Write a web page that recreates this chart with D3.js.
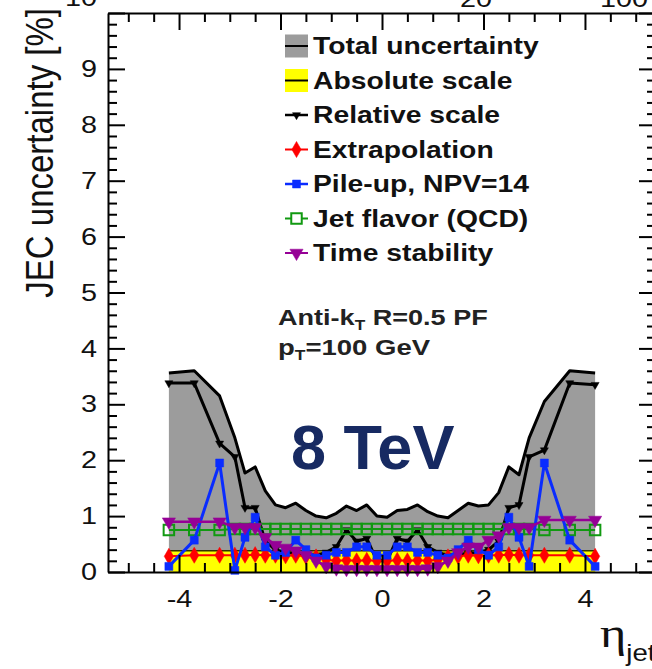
<!DOCTYPE html>
<html><head><meta charset="utf-8">
<script src="https://cdn.jsdelivr.net/npm/d3@7"></script>
<style>body{margin:0;background:#fff}svg{display:block}</style>
</head><body>
<svg id="chart" width="652" height="669"></svg>
<script>
// pseudorapidity points of the uncertainty sources
const eta = [-4.2,-3.7,-3.2,-2.9,-2.7,-2.5,-2.3,-2.1,-1.9,-1.7,-1.5,-1.3,-1.1,-0.9,-0.7,-0.5,-0.3,-0.1,
             0.1,0.3,0.5,0.7,0.9,1.1,1.3,1.5,1.7,1.9,2.1,2.3,2.5,2.7,2.9,3.2,3.7,4.2];
// uncertainties in percent
const totalUnc = [3.56,3.60,3.15,2.40,1.77,1.88,1.45,1.20,1.15,1.23,1.10,1.00,0.97,1.05,1.18,1.10,1.20,1.00,
                  0.98,1.10,1.12,1.20,1.08,1.00,0.97,1.10,1.23,1.18,1.20,1.42,1.88,1.74,2.40,3.05,3.60,3.56];
const absoluteScale = [0.38,0.38,0.38,0.38,0.38,0.38,0.38,0.38,0.38,0.38,0.38,0.38,0.38,0.38,0.38,0.38,0.38,0.38,
                       0.38,0.38,0.38,0.38,0.38,0.38,0.38,0.38,0.38,0.38,0.38,0.38,0.38,0.38,0.38,0.38,0.38,0.38];
const relativeScale = [3.38,3.38,2.30,2.06,1.15,1.15,0.55,0.40,0.35,0.33,0.32,0.30,0.35,0.45,0.75,0.55,0.60,0.20,
                       0.20,0.60,0.55,0.75,0.45,0.35,0.30,0.32,0.33,0.35,0.40,0.55,1.15,1.20,2.06,2.18,3.38,3.35];
const extrapolation = [0.28,0.30,0.30,0.30,0.30,0.31,0.30,0.30,0.29,0.30,0.28,0.27,0.22,0.20,0.21,0.20,0.21,0.20,
                       0.20,0.21,0.20,0.21,0.20,0.22,0.27,0.28,0.30,0.29,0.30,0.30,0.31,0.30,0.30,0.30,0.30,0.28];
const pileUp = [0.10,0.57,1.95,0.03,0.62,0.98,0.45,0.30,0.35,0.57,0.40,0.25,0.30,0.35,0.35,0.45,0.45,0.30,
                0.30,0.45,0.45,0.35,0.35,0.30,0.25,0.40,0.57,0.40,0.30,0.45,0.98,0.62,0.10,1.95,0.57,0.10];
const jetFlavor = [0.75,0.75,0.75,0.77,0.77,0.77,0.77,0.77,0.77,0.77,0.77,0.77,0.77,0.77,0.77,0.77,0.77,0.77,
                   0.77,0.77,0.77,0.77,0.77,0.77,0.77,0.77,0.77,0.77,0.77,0.77,0.77,0.77,0.77,0.75,0.75,0.75];
const timeStability = [0.90,0.90,0.90,0.80,0.80,0.80,0.62,0.48,0.43,0.38,0.30,0.20,0.10,0.06,0.05,0.05,0.05,0.05,
                       0.05,0.05,0.05,0.05,0.06,0.10,0.20,0.35,0.45,0.45,0.57,0.65,0.80,0.80,0.80,0.93,0.93,0.93];

const xMajorTicks = [-4,-2,0,2,4];
const yMajorTicks = [0,1,2,3,4,5,6,7,8,9,10];
const legendLabels = ["Total uncertainty","Absolute scale","Relative scale","Extrapolation",
                      "Pile-up, NPV=14","Jet flavor (QCD)","Time stability"];

const FONT = "'Liberation Sans', Arial, Helvetica, sans-serif";
const SX = 1.2; // horizontal stretch of the ROOT lettering

const svg = d3.select("#chart");
const x = d3.scaleLinear().domain([-5.4, 5.4]).range([108, 656]);
const y = d3.scaleLinear().domain([0, 10]).range([572, 13]);

const pts = vals => eta.map((e, i) => ({e, v: vals[i]}));
const line = d3.line().x(d => x(d.e)).y(d => y(d.v));
const area = d3.area().x(d => x(d.e)).y0(y(0)).y1(d => y(d.v));

const COL = {gray:"#9c9c9c", yellow:"#ffff00", red:"#ff0000", blue:"#0a2cff", green:"#119911", purple:"#960096", black:"#000"};

const plot = svg.append("g");

// total band
plot.append("path").attr("d", area(pts(totalUnc))).attr("fill", COL.gray);
// absolute scale band
plot.append("path").attr("d", area(pts(absoluteScale))).attr("fill", COL.yellow);
plot.append("path").attr("d", line(pts(absoluteScale))).attr("fill","none").attr("stroke","#333300").attr("stroke-width",1.5);

// marker shapes
const sym = {
  relative: d3.symbol(d3.symbolTriangle, 28)(),
  diamond: d3.symbol(d3.symbolDiamond, 75)(),
  square: d3.symbol(d3.symbolSquare, 64)(),
  open: d3.symbol(d3.symbolSquare, 110)(),
  tri: d3.symbol(d3.symbolTriangle, 75)()
};

function series(vals, color, width, shape, opts = {}) {
  const g = plot.append("g");
  g.append("path").attr("d", line(pts(vals))).attr("fill","none")
    .attr("stroke", color).attr("stroke-width", width).attr("stroke-linejoin","round");
  g.selectAll("path.m").data(pts(vals)).join("path").attr("class","m")
    .attr("d", shape)
    .attr("transform", d => `translate(${x(d.e)},${y(d.v)})` + (opts.rot ? " rotate(180)" : ""))
    .attr("fill", opts.open ? "none" : color)
    .attr("stroke", color).attr("stroke-width", opts.open ? 2 : 0.5);
}

series(relativeScale, COL.black, 3, sym.relative, {rot:true});
series(jetFlavor, COL.green, 2, sym.open, {open:true});
series(extrapolation, COL.red, 2, sym.diamond);
series(pileUp, COL.blue, 3, sym.square);
series(timeStability, COL.purple, 2.5, sym.tri, {rot:true});
plot.append("path").attr("d", line(pts(totalUnc))).attr("fill","none")
  .attr("stroke","#000").attr("stroke-width",3).attr("stroke-linejoin","round");

// axes
const axes = svg.append("g").attr("font-family", FONT);
const minorX = d3.range(-5, 5.01, 0.5).filter(v => !xMajorTicks.includes(v));
const minorY = d3.range(0, 10.001, 0.2).map(v => +v.toFixed(1)).filter(v => !yMajorTicks.includes(v));
const plain = d => String(d);

function styleAxis(g) {
  g.select(".domain").attr("stroke","#000").attr("stroke-width",2);
  g.selectAll(".tick line").attr("stroke","#000").attr("stroke-width",2);
}
function minorStyle(g) {
  g.select(".domain").remove();
  g.selectAll(".tick line").attr("stroke","#000").attr("stroke-width",2);
}
const bottomAxis = axes.append("g").attr("transform", `translate(0,${y(0)})`)
  .call(d3.axisBottom(x).tickValues(xMajorTicks).tickSize(-17).tickSizeOuter(0).tickPadding(18).tickFormat(plain));
bottomAxis.call(styleAxis);
bottomAxis.selectAll(".tick text").attr("font-size", 24).attr("fill","#111")
  .attr("transform", `scale(${SX},1)`);
axes.append("g").attr("transform", `translate(0,${y(0)})`)
  .call(d3.axisBottom(x).tickValues(minorX).tickSize(-9).tickSizeOuter(0).tickFormat(""))
  .call(minorStyle);

const topAxis = axes.append("g").attr("transform", `translate(0,${y(10)})`)
  .call(d3.axisTop(x).tickValues(xMajorTicks).tickSize(-17).tickSizeOuter(0).tickFormat(""));
topAxis.call(styleAxis);
axes.append("g").attr("transform", `translate(0,${y(10)})`)
  .call(d3.axisTop(x).tickValues(minorX).tickSize(-9).tickFormat(""))
  .call(minorStyle);

const leftAxis = axes.append("g").attr("transform", `translate(${x(-5.4)},0)`)
  .call(d3.axisLeft(y).tickValues(yMajorTicks).tickSize(-17).tickSizeOuter(0).tickPadding(11).tickFormat(plain));
leftAxis.call(styleAxis);
leftAxis.selectAll(".tick text").attr("font-size", 24).attr("fill","#111")
  .attr("x", 0)
  .attr("transform", d => `translate(-11,${d === 10 ? -15 : 0}) scale(${SX},1)`);
axes.append("g").attr("transform", `translate(${x(-5.4)},0)`)
  .call(d3.axisLeft(y).tickValues(minorY).tickSize(-9).tickFormat(""))
  .call(minorStyle);

const rightAxis = axes.append("g").attr("transform", `translate(${x(5.4)},0)`)
  .call(d3.axisRight(y).tickValues(yMajorTicks).tickSize(-17).tickSizeOuter(0).tickFormat(""));
rightAxis.call(styleAxis);
axes.append("g").attr("transform", `translate(${x(5.4)},0)`)
  .call(d3.axisRight(y).tickValues(minorY).tickSize(-9).tickFormat(""))
  .call(minorStyle);

// axis titles
svg.append("text").attr("font-family", FONT).attr("font-size", 33).attr("fill","#111")
  .attr("text-anchor","end")
  .attr("transform", "translate(53,8) rotate(-90) scale(1,1.2)")
  .text("JEC uncertainty [%]");
const xt = svg.append("text").attr("font-family","'Liberation Serif', 'DejaVu Serif', serif").attr("fill","#111")
  .attr("transform", `translate(600,647) scale(${SX},1)`);
xt.append("tspan").attr("font-size", 42).text("η");
xt.append("tspan").attr("font-family", FONT).attr("font-size", 23).attr("dy", 14).text("jet");

// labels of the panel above, cut by the page edge
svg.append("g").attr("font-family", FONT).attr("font-size", 24).attr("fill","#111").attr("text-anchor","middle")
  .selectAll("text").data([{t:"20", x:476},{t:"100", x:624}]).join("text")
  .attr("transform", d => `translate(${d.x},7) scale(${SX},1)`).text(d => d.t);

// legend
const lg = svg.append("g").attr("font-family", FONT).attr("font-weight","bold").attr("font-size", 23).attr("fill","#111");
const lx0 = 285, lx1 = 308, rowH = 34.5, row0 = 46;
const legendStyle = [
  {fill: COL.gray},
  {fill: COL.yellow},
  {stroke: COL.black, shape: sym.relative, rot: true, w: 2.5},
  {stroke: COL.red, shape: sym.diamond, w: 2},
  {stroke: COL.blue, shape: sym.square, w: 2.5},
  {stroke: COL.green, shape: sym.open, open: true, w: 2},
  {stroke: COL.purple, shape: sym.tri, rot: true, w: 2}
];
legendLabels.forEach((lab, i) => {
  const cy = row0 + i * rowH, s = legendStyle[i];
  if (s.fill) {
    lg.append("rect").attr("x", lx0).attr("y", cy - 11.5).attr("width", lx1 - lx0).attr("height", 23).attr("fill", s.fill);
    lg.append("line").attr("x1", lx0).attr("x2", lx1).attr("y1", cy).attr("y2", cy).attr("stroke","#000").attr("stroke-width",2);
  } else {
    lg.append("line").attr("x1", lx0).attr("x2", lx1).attr("y1", cy).attr("y2", cy).attr("stroke", s.stroke).attr("stroke-width", s.w);
    lg.append("path").attr("d", s.shape)
      .attr("transform", `translate(${(lx0 + lx1) / 2},${cy})` + (s.rot ? " rotate(180)" : ""))
      .attr("fill", s.open ? "#fff" : s.stroke).attr("stroke", s.stroke).attr("stroke-width", s.open ? 2 : 0.5);
  }
  lg.append("text").attr("transform", `translate(313,${cy + 8}) scale(1.23,1)`).text(lab);
});

// jet and kinematic selection
const info = svg.append("g").attr("font-family", FONT).attr("font-weight","bold").attr("font-size", 22).attr("fill","#222");
const t1 = info.append("text").attr("transform", `translate(278,325) scale(1.23,1)`);
t1.append("tspan").text("Anti-k");
t1.append("tspan").attr("font-size", 14).attr("dy", 5).text("T");
t1.append("tspan").attr("dy", -5).text(" R=0.5 PF");
const t2 = info.append("text").attr("transform", `translate(278,355) scale(1.25,1)`);
t2.append("tspan").text("p");
t2.append("tspan").attr("font-size", 14).attr("dy", 5).text("T");
t2.append("tspan").attr("dy", -5).text("=100 GeV");

// centre-of-mass energy
svg.append("text").attr("x", 291).attr("y", 469).attr("font-family", FONT).attr("font-weight","bold")
  .attr("font-size", 63).attr("fill","#172a62").text("8 TeV");
</script>
</body></html>
